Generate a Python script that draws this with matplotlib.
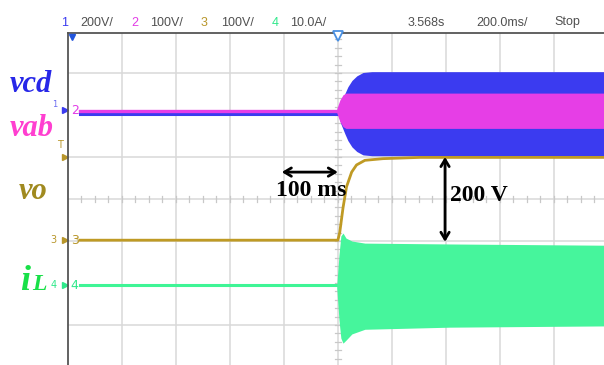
import matplotlib.pyplot as plt
import numpy as np

# scope capture: time in ms (0 = trigger), amplitude in screen divisions
# vo (ch3) step response
t_vo = [-956, 0, 7, 19, 32, 51, 69, 100, 167, 304, 990]
vo = [-0.98, -0.98, -0.79, -0.21, 0.29, 0.64, 0.81, 0.92, 0.96, 0.99, 0.99]

# vcd (ch1) switching envelope, half amplitude around its offset
vcd_off = 2.03
t_cd = [0, 11, 26, 37, 52, 70, 93, 126, 990]
half_cd = [0, 0.24, 0.48, 0.64, 0.79, 0.90, 0.98, 1.0, 1.0]

# vab (ch2) envelope
vab_off = 2.1
t_ab = [-4, 7, 19, 30, 990]
half_ab = [0.05, 0.25, 0.38, 0.42, 0.42]

# iL (ch4) envelope
il_off = -2.05
t_il = [-4, 4, 11, 19, 30, 52, 100, 415, 990]
il_top = [-2.05, -1.33, -0.88, -0.81, -0.93, -1.0, -1.05, -1.07, -1.1]
il_bot = [-2.12, -2.88, -3.31, -3.43, -3.36, -3.21, -3.10, -3.05, -3.02]

header = [('1', '#3b3bf0', 61), ('200V/', '#505050', 80), ('2', '#e23be6', 131),
          ('100V/', '#505050', 150), ('3', '#b8962a', 201), ('100V/', '#505050', 221),
          ('4', '#2ee88a', 272), ('10.0A/', '#505050', 290), ('3.568s', '#505050', 408),
          ('200.0ms/', '#505050', 476), ('Stop', '#505050', 554)]

W, H = 604, 365
fig = plt.figure(figsize=(W / 100, H / 100), dpi=100)
ax = fig.add_axes([68 / W, 0, (W - 68) / W, (H - 33) / H])
ax.set_xlim(-1000, 986)
ax.set_ylim(-3.95, 3.95)

# graticule
gcol = '#d9d9d9'
for x in np.arange(-800, 1000, 200):
    ax.axvline(x, color=gcol, lw=1.1, zorder=0)
for y in [-3, -1, 0, 1, 3]:
    ax.axhline(y, color=gcol, lw=1.1, zorder=0)
for x in np.arange(-950, 1000, 50):
    ax.plot([x, x], [-0.06, 0.06], color='#c8c8c8', lw=0.9, zorder=0)
for y in np.arange(-3.8, 4.0, 0.2):
    ax.plot([-11, 11], [y, y], color='#c8c8c8', lw=0.9, zorder=0)

for s in ['right', 'bottom']:
    ax.spines[s].set_visible(False)
ax.spines['left'].set_color('#555555')
ax.spines['top'].set_color('#555555')
ax.spines['left'].set_linewidth(1.3)
ax.spines['top'].set_linewidth(1.3)
ax.set_xticks([])
ax.set_yticks([])

# traces
ax.plot([-956, 0], [vcd_off, vcd_off], color='#3b3bf0', lw=2.2, zorder=2)
ax.fill_between(t_cd, vcd_off - np.array(half_cd), vcd_off + np.array(half_cd),
                color='#3b3bf0', lw=0, zorder=2)
ax.plot([-956, -4], [vab_off, vab_off], color='#e63ee6', lw=2.4, zorder=3)
ax.fill_between(t_ab, vab_off - np.array(half_ab), vab_off + np.array(half_ab),
                color='#e63ee6', lw=0, zorder=3)
ax.plot(t_vo, vo, color='#bf9a24', lw=2.0, zorder=4)
ax.plot([-956, -4], [il_off, il_off], color='#3ff596', lw=2.2, zorder=2)
ax.fill_between(t_il, il_bot, il_top, color='#46f59c', lw=0, zorder=2)

# annotations
arr = dict(arrowstyle='<->,head_length=0.5,head_width=0.3', lw=2.0, color='black',
           shrinkA=0, shrinkB=0)
ax.annotate('', xy=(-208, 0.64), xytext=(0, 0.64), arrowprops=arr, zorder=6)
ax.annotate('', xy=(397, 1.0), xytext=(397, -1.02), arrowprops=arr, zorder=6)
ax.text(-100, 0.07, '100 ms', ha='center', va='baseline', fontsize=17,
        fontweight='bold', family='Liberation Serif', zorder=6)
ax.text(415, -0.05, '200 V', ha='left', va='baseline', fontsize=17,
        fontweight='bold', family='Liberation Serif', zorder=6)

# channel markers on the left edge
ax.text(-975, vab_off, '2', color='#e23be6', fontsize=9, va='center', ha='center')
ax.text(-975, -0.98, '3', color='#b8962a', fontsize=9, va='center', ha='center')
ax.text(-975, il_off, '4', color='#2ee88a', fontsize=9, va='center', ha='center')
ax.plot([-1010], [vab_off + 0.02], marker='>', ms=4, color='#3b3bf0', clip_on=False)
ax.plot([-1010], [-0.98], marker='>', ms=4, color='#b8962a', clip_on=False)
ax.plot([-1010], [il_off], marker='>', ms=4, color='#2ee88a', clip_on=False)
ax.plot([-1010], [1.0], marker='>', ms=4, color='#b8962a', clip_on=False)
ax.text(-1030, 1.28, 'T', color='#b8962a', fontsize=7, va='center', ha='center')
ax.text(-1050, vab_off + 0.15, '1', color='#6a6af0', fontsize=6, va='center', ha='center')
ax.text(-1055, -0.98, '3', color='#b8962a', fontsize=7, va='center', ha='center')
ax.text(-1055, il_off, '4', color='#2ee88a', fontsize=7, va='center', ha='center')
ax.plot([0], [3.88], marker='v', ms=7, mfc='white', mec='#4a90e2', mew=1.3, clip_on=False, zorder=7)
ax.plot([-985], [3.86], marker='v', ms=5, color='#2255dd', clip_on=False, zorder=7)

# header bar
for txt, col, px in header:
    fig.text(px / W, 1 - 22.5 / H, txt, color=col, fontsize=9, va='center', ha='left',
             family='Liberation Sans')

# trace labels
lab = dict(family='Liberation Serif', fontweight='bold', style='italic', va='baseline')
fig.text(10 / W, 1 - 92 / H, 'vcd', color='#2727e8', fontsize=22, **lab)
fig.text(10 / W, 1 - 136 / H, 'vab', color='#ff3fd0', fontsize=22, **lab)
fig.text(19 / W, 1 - 199 / H, 'vo', color='#a08a20', fontsize=22, **lab)
fig.text(20 / W, 1 - 290 / H, 'i', color='#18e048', fontsize=26, **lab)
fig.text(32 / W, 1 - 290 / H, 'L', color='#18e048', fontsize=17, **lab)

fig.savefig('out.png', dpi=100)
